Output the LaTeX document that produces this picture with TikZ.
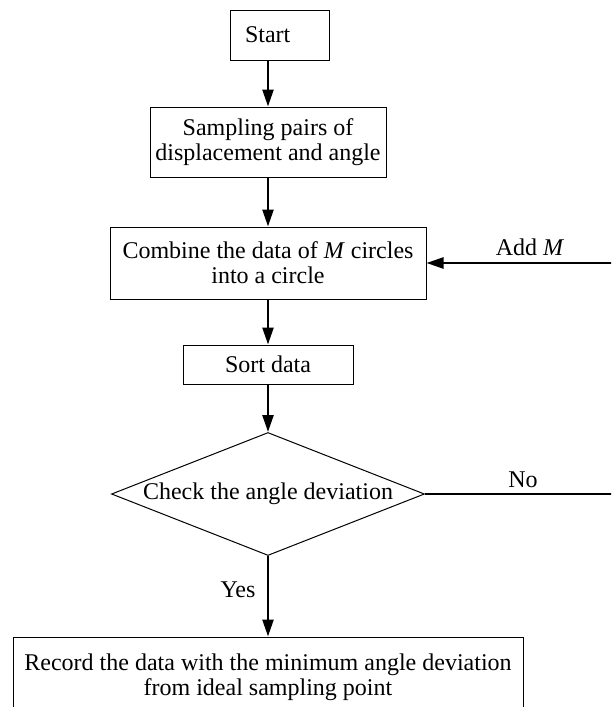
\documentclass[tikz,border=0pt]{standalone}
\usepackage{fontspec}
\setmainfont{Liberation Serif}
\usepackage{tikz}
\usetikzlibrary{arrows.meta,shapes.geometric}

\begin{document}
\begin{tikzpicture}[x=0.5pt,y=-0.5pt,
    font=\fontsize{12}{12.5}\selectfont,
    box/.style={draw,line width=0.5pt,align=center,inner sep=0pt},
    flow/.style={line width=1.2pt,-{Triangle[length=8.5pt,width=5.5pt]}}]
  \useasboundingbox (0,0) rectangle (611,707);
  \clip (0,0) rectangle (611,707);
  \node[box,text width=49.5pt,align=left,minimum height=25pt] (start) at (279.5,35)
    {\hspace*{7.5pt}Start};
  \node[box,minimum width=118pt,minimum height=35pt] (sample) at (268,142)
    {Sampling pairs of\\displacement and angle};
  \node[box,minimum width=158pt,minimum height=36pt] (combine) at (268,263)
    {Combine the data of \textit{M} circles\\into a circle};
  \node[box,minimum width=85pt,minimum height=19.5pt] (sort) at (268,364.5) {Sort data};
  \node[box,diamond,aspect=2.54,minimum width=156.5pt,minimum height=61.5pt] (check) at (268,494)
    {Check the angle deviation};
  \node[box,minimum width=255pt,minimum height=40pt] (record) at (268,677)
    {Record the data with the minimum angle deviation\\from ideal sampling point};
  \coordinate (turn) at (625,494);
  \node (yes) at (238,590) {Yes};
  \node (no) at (523,480) {No};
  \node (add) at (530,247) {Add \textit{M}};
  \draw[flow] (start.south -| sample.north) -- (sample);
  \draw[flow] (sample) -- (combine);
  \draw[flow] (combine) -- (sort);
  \draw[flow] (sort) -- (check);
  \draw[flow] (check) -- (record);
  \draw[flow] (check.east) -- (turn) |- (combine.east);
\end{tikzpicture}
\end{document}
